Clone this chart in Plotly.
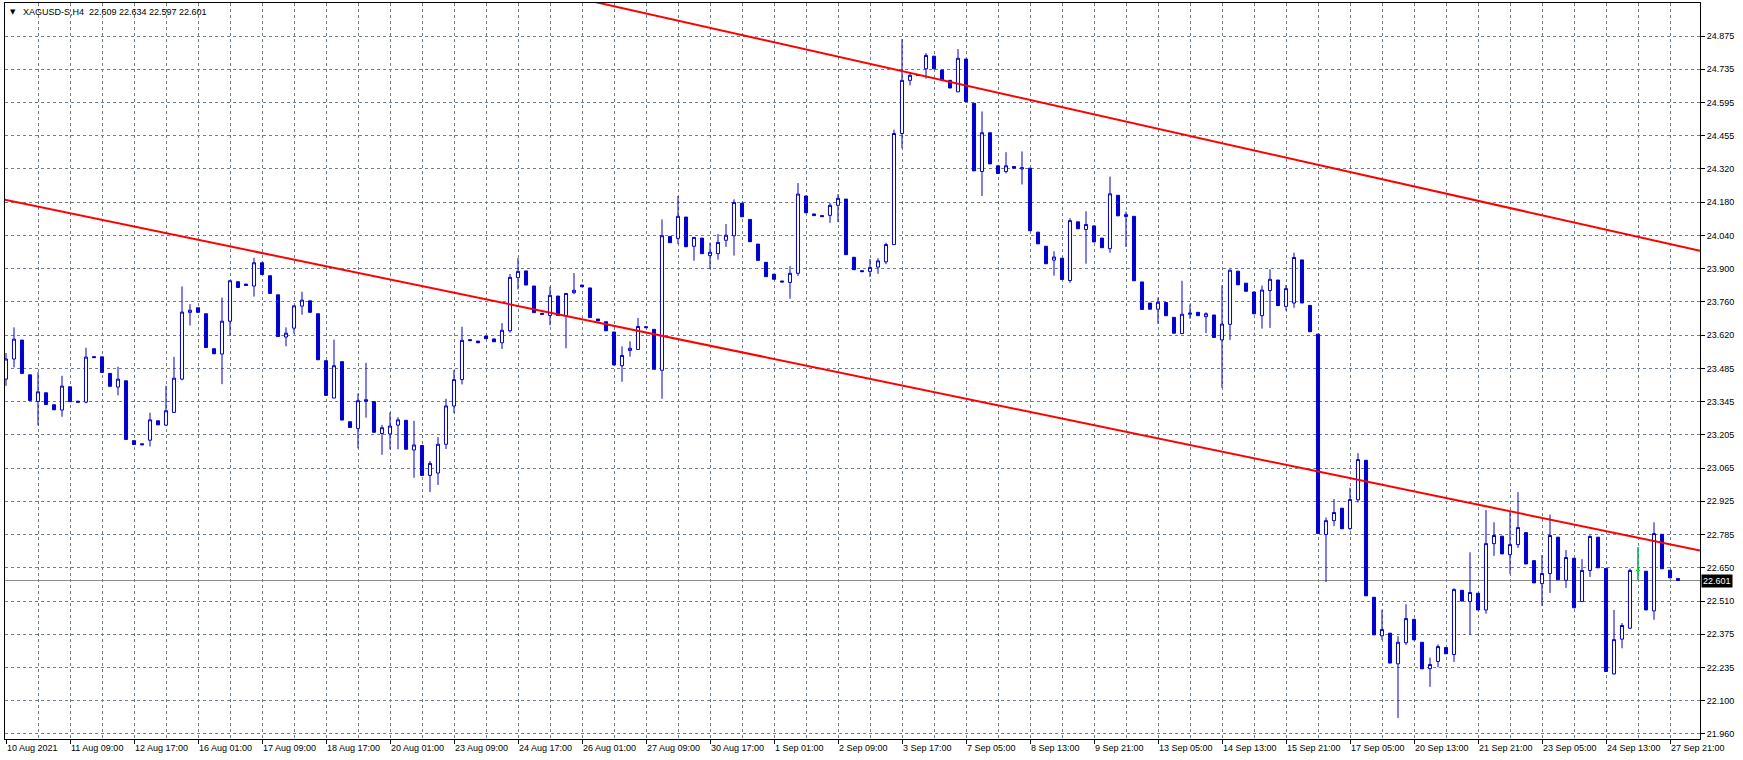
import plotly.graph_objects as go

# ---------------- data ----------------
open_ = [23.442, 23.526, 23.605, 23.460, 23.349, 23.385, 23.335, 23.313, 23.410, 23.350,
         23.346, 23.536, 23.535, 23.466, 23.409, 23.435, 23.185, 23.172, 23.187, 23.268,
         23.250, 23.303, 23.442, 23.721, 23.740, 23.715, 23.569, 23.547, 23.684, 23.849,
         23.839, 23.831, 23.928, 23.874, 23.794, 23.618, 23.655, 23.747, 23.769, 23.715,
         23.519, 23.363, 23.515, 23.264, 23.236, 23.349, 23.348, 23.215, 23.213, 23.250,
         23.270, 23.146, 23.165, 23.040, 23.050, 23.170, 23.330, 23.440, 23.607, 23.601,
         23.622, 23.610, 23.594, 23.644, 23.866, 23.894, 23.831, 23.717, 23.708, 23.789,
         23.707, 23.803, 23.835, 23.823, 23.693, 23.682, 23.639, 23.498, 23.562, 23.566,
         23.661, 23.650, 23.479, 24.038, 24.030, 24.119, 23.997, 24.031, 23.958, 23.966,
         24.022, 24.041, 24.177, 24.109, 24.006, 23.930, 23.880, 23.852, 23.846, 23.884,
         24.207, 24.132, 24.125, 24.126, 24.168, 24.194, 23.951, 23.895, 23.892, 23.910,
         23.932, 24.004, 24.468, 24.690, 24.714, 24.738, 24.791, 24.733, 24.690, 24.642,
         24.779, 24.594, 24.309, 24.471, 24.333, 24.309, 24.330, 24.320, 24.323, 24.056,
         23.997, 23.939, 23.947, 23.854, 24.099, 24.067, 24.082, 24.031, 23.987, 24.210,
         24.121, 24.122, 23.848, 23.760, 23.734, 23.762, 23.700, 23.632, 23.713, 23.721,
         23.703, 23.710, 23.606, 23.671, 23.893, 23.843, 23.806, 23.707, 23.812, 23.856,
         23.746, 23.760, 23.940, 23.750, 23.630, 22.793, 22.851, 22.903, 22.818, 22.938,
         23.103, 22.531, 22.370, 22.381, 22.253, 22.341, 22.439, 22.343, 22.233, 22.263,
         22.321, 22.292, 22.560, 22.513, 22.548, 22.478, 22.755, 22.786, 22.709, 22.751,
         22.801, 22.684, 22.588, 22.630, 22.782, 22.602, 22.694, 22.513, 22.643, 22.782,
         22.651, 22.211, 22.356, 22.402, 22.643, 22.640, 22.474, 22.794, 22.644, 22.609]

high = [23.551, 23.658, 23.605, 23.460, 23.471, 23.385, 23.335, 23.456, 23.410, 23.350,
        23.573, 23.536, 23.535, 23.466, 23.494, 23.435, 23.185, 23.172, 23.302, 23.268,
        23.414, 23.535, 23.829, 23.755, 23.740, 23.715, 23.569, 23.783, 23.855, 23.849,
        23.839, 23.949, 23.928, 23.874, 23.794, 23.658, 23.750, 23.807, 23.769, 23.715,
        23.519, 23.607, 23.515, 23.264, 23.382, 23.510, 23.348, 23.251, 23.303, 23.283,
        23.270, 23.268, 23.165, 23.100, 23.200, 23.360, 23.480, 23.661, 23.607, 23.601,
        23.622, 23.610, 23.676, 23.881, 23.948, 23.894, 23.831, 23.717, 23.828, 23.789,
        23.801, 23.885, 23.835, 23.823, 23.693, 23.682, 23.639, 23.579, 23.600, 23.697,
        23.661, 23.650, 24.109, 24.038, 24.207, 24.119, 24.035, 24.031, 24.012, 24.048,
        24.090, 24.193, 24.177, 24.109, 24.006, 23.930, 23.880, 23.852, 23.914, 24.261,
        24.207, 24.132, 24.125, 24.178, 24.215, 24.194, 23.951, 23.895, 23.944, 23.947,
        24.012, 24.484, 24.862, 24.723, 24.714, 24.804, 24.791, 24.733, 24.690, 24.821,
        24.779, 24.594, 24.560, 24.471, 24.333, 24.390, 24.330, 24.393, 24.323, 24.056,
        23.997, 23.976, 23.947, 24.114, 24.099, 24.143, 24.082, 24.031, 24.288, 24.210,
        24.142, 24.122, 23.848, 23.760, 23.783, 23.762, 23.700, 23.853, 23.754, 23.721,
        23.721, 23.710, 23.833, 23.900, 23.893, 23.843, 23.806, 23.833, 23.901, 23.856,
        23.835, 23.970, 23.940, 23.750, 23.630, 22.864, 22.941, 22.903, 22.988, 23.133,
        23.103, 22.531, 22.478, 22.381, 22.368, 22.502, 22.439, 22.343, 22.279, 22.334,
        22.321, 22.569, 22.560, 22.719, 22.548, 22.895, 22.844, 22.786, 22.888, 22.970,
        22.801, 22.684, 22.707, 22.876, 22.782, 22.728, 22.694, 22.690, 22.790, 22.782,
        22.651, 22.478, 22.423, 22.651, 22.740, 22.640, 22.844, 22.794, 22.644, 22.609]

low = [23.414, 23.491, 23.466, 23.353, 23.249, 23.336, 23.314, 23.285, 23.348, 23.346,
       23.341, 23.532, 23.470, 23.412, 23.374, 23.190, 23.169, 23.168, 23.161, 23.251,
       23.246, 23.303, 23.437, 23.666, 23.721, 23.574, 23.548, 23.421, 23.625, 23.825,
       23.833, 23.787, 23.879, 23.800, 23.620, 23.579, 23.632, 23.711, 23.721, 23.523,
       23.374, 23.363, 23.271, 23.240, 23.153, 23.281, 23.220, 23.126, 23.149, 23.149,
       23.149, 23.030, 23.040, 22.970, 23.000, 23.150, 23.300, 23.420, 23.603, 23.594,
       23.611, 23.598, 23.568, 23.636, 23.817, 23.835, 23.720, 23.713, 23.667, 23.708,
       23.571, 23.797, 23.828, 23.699, 23.685, 23.644, 23.501, 23.431, 23.536, 23.566,
       23.657, 23.483, 23.360, 24.012, 24.006, 23.995, 23.937, 23.966, 23.903, 23.941,
       23.994, 23.958, 24.120, 24.016, 23.938, 23.870, 23.859, 23.848, 23.778, 23.873,
       24.137, 24.125, 24.121, 24.095, 24.098, 23.962, 23.899, 23.891, 23.869, 23.882,
       23.922, 24.004, 24.406, 24.669, 24.710, 24.697, 24.738, 24.691, 24.658, 24.642,
       24.601, 24.312, 24.207, 24.341, 24.301, 24.301, 24.323, 24.255, 24.062, 24.007,
       23.924, 23.874, 23.858, 23.845, 24.070, 23.924, 24.015, 23.991, 23.970, 24.124,
       23.994, 23.853, 23.733, 23.734, 23.674, 23.707, 23.634, 23.632, 23.694, 23.707,
       23.634, 23.616, 23.406, 23.606, 23.836, 23.809, 23.715, 23.653, 23.656, 23.749,
       23.728, 23.740, 23.760, 23.640, 22.797, 22.595, 22.828, 22.817, 22.812, 22.927,
       22.537, 22.374, 22.353, 22.256, 22.027, 22.331, 22.353, 22.232, 22.157, 22.239,
       22.295, 22.261, 22.515, 22.374, 22.478, 22.462, 22.704, 22.712, 22.629, 22.737,
       22.670, 22.591, 22.495, 22.549, 22.604, 22.570, 22.487, 22.513, 22.616, 22.654,
       22.221, 22.208, 22.318, 22.398, 22.604, 22.478, 22.437, 22.650, 22.612, 22.601]

close = [23.526, 23.609, 23.466, 23.353, 23.389, 23.336, 23.314, 23.413, 23.348, 23.346,
         23.534, 23.532, 23.470, 23.412, 23.442, 23.190, 23.169, 23.168, 23.272, 23.251,
         23.310, 23.446, 23.722, 23.730, 23.721, 23.574, 23.548, 23.684, 23.853, 23.825,
         23.833, 23.928, 23.879, 23.800, 23.620, 23.634, 23.748, 23.772, 23.721, 23.523,
         23.374, 23.498, 23.271, 23.240, 23.352, 23.356, 23.220, 23.239, 23.246, 23.272,
         23.149, 23.167, 23.040, 23.090, 23.170, 23.330, 23.440, 23.604, 23.603, 23.594,
         23.611, 23.598, 23.646, 23.867, 23.892, 23.835, 23.720, 23.713, 23.792, 23.708,
         23.800, 23.813, 23.828, 23.699, 23.685, 23.644, 23.501, 23.541, 23.571, 23.662,
         23.657, 23.483, 24.041, 24.012, 24.122, 23.995, 24.034, 23.966, 23.972, 24.013,
         24.043, 24.180, 24.120, 24.016, 23.938, 23.870, 23.859, 23.848, 23.884, 24.215,
         24.137, 24.125, 24.121, 24.168, 24.197, 23.962, 23.899, 23.891, 23.908, 23.936,
         24.004, 24.468, 24.690, 24.711, 24.710, 24.794, 24.738, 24.691, 24.658, 24.782,
         24.601, 24.312, 24.471, 24.341, 24.301, 24.333, 24.323, 24.325, 24.062, 24.007,
         23.924, 23.952, 23.858, 24.104, 24.070, 24.088, 24.015, 23.991, 24.216, 24.124,
         24.129, 23.853, 23.733, 23.734, 23.763, 23.707, 23.634, 23.713, 23.718, 23.707,
         23.715, 23.616, 23.672, 23.897, 23.836, 23.809, 23.715, 23.814, 23.859, 23.749,
         23.820, 23.950, 23.760, 23.640, 22.797, 22.851, 22.885, 22.817, 22.939, 23.106,
         22.537, 22.374, 22.396, 22.256, 22.343, 22.442, 22.353, 22.232, 22.250, 22.325,
         22.295, 22.563, 22.515, 22.551, 22.478, 22.755, 22.789, 22.712, 22.751, 22.822,
         22.670, 22.591, 22.630, 22.789, 22.604, 22.697, 22.487, 22.643, 22.785, 22.654,
         22.221, 22.354, 22.413, 22.643, 22.643, 22.478, 22.797, 22.650, 22.612, 22.601]

time_labels = ["10 Aug 2021", "11 Aug 09:00", "12 Aug 17:00", "16 Aug 01:00", "17 Aug 09:00",
               "18 Aug 17:00", "20 Aug 01:00", "23 Aug 09:00", "24 Aug 17:00", "26 Aug 01:00",
               "27 Aug 09:00", "30 Aug 17:00", "1 Sep 01:00", "2 Sep 09:00", "3 Sep 17:00",
               "7 Sep 05:00", "8 Sep 13:00", "9 Sep 21:00", "13 Sep 05:00", "14 Sep 13:00",
               "15 Sep 21:00", "17 Sep 05:00", "20 Sep 13:00", "21 Sep 21:00", "23 Sep 05:00",
               "24 Sep 13:00", "27 Sep 21:00"]
bars_per_label = 8

price_labels = ["21.960", "22.100", "22.235", "22.375", "22.510", "22.650", "22.785", "22.925",
                "23.065", "23.205", "23.345", "23.485", "23.620", "23.760", "23.900", "24.040",
                "24.180", "24.320", "24.455", "24.595", "24.735", "24.875"]

# trend lines: two anchors each (bar index, price)
upper_line_bars = [83.625, 211.75]
upper_line_prices = [24.942, 23.978]
lower_line_bars = [0.0, 211.75]
lower_line_prices = [24.190, 22.726]

last_price = 22.601
title_text = "XAGUSD-S,H4\u00a0\u00a022.609 22.634 22.597 22.601"

# ---------------- figure ----------------
n = len(open_)
bars = list(range(n))

BLUE = "#0000CD"
GRID = "#6E7F90"
FONT = "Liberation Sans, Arial, sans-serif"

y_min, y_max = 21.939, 25.013
x_min, x_max = -0.125, 211.75

def extend(xs, ys, x0, x1):
    slope = (ys[1] - ys[0]) / (xs[1] - xs[0])
    return [x0, x1], [ys[0] + slope * (x0 - xs[0]), ys[0] + slope * (x1 - xs[0])]

fig = go.Figure()

fig.add_trace(go.Candlestick(
    x=bars, open=open_, high=high, low=low, close=close,
    increasing=dict(line=dict(color=BLUE, width=1), fillcolor="white"),
    decreasing=dict(line=dict(color=BLUE, width=1), fillcolor=BLUE),
    whiskerwidth=0, hoverinfo="skip", showlegend=False,
))

doji = [i for i in bars if open_[i] == close[i]]
fig.add_trace(go.Candlestick(
    x=doji, open=[open_[i] for i in doji], high=[high[i] for i in doji],
    low=[low[i] for i in doji], close=[close[i] for i in doji],
    increasing=dict(line=dict(color="#00FF00", width=1), fillcolor="#00FF00"),
    decreasing=dict(line=dict(color="#00FF00", width=1), fillcolor="#00FF00"),
    whiskerwidth=0, hoverinfo="skip", showlegend=False,
))

ux, uy = extend(upper_line_bars, upper_line_prices, 40, x_max)
lx, ly = extend(lower_line_bars, lower_line_prices, -2, x_max)
for xs, ys in ((ux, uy), (lx, ly)):
    fig.add_trace(go.Scatter(x=xs, y=ys, mode="lines",
                             line=dict(color="#FF0000", width=2),
                             hoverinfo="skip", showlegend=False))

step = (float(price_labels[-1]) - float(price_labels[0])) / (len(price_labels) - 1)
price_vals = [float(price_labels[0]) + k * step for k in range(len(price_labels))]
label_bars = [k * bars_per_label for k in range(len(time_labels))]
minor_bars = [b + bars_per_label // 2 for b in label_bars]

fig.add_shape(type="line", xref="paper", x0=0, x1=1, yref="y", y0=last_price, y1=last_price,
              line=dict(color="#8C8C8C", width=1), layer="between")

fig.add_annotation(xref="paper", x=1, xanchor="left", xshift=1, yref="y", y=last_price,
                   text=f"{last_price:.3f}", showarrow=False, bgcolor="black",
                   font=dict(family=FONT, size=9, color="white"), borderpad=1)

fig.add_annotation(xref="paper", x=0.0045, xanchor="center", yref="paper", y=1, yanchor="top",
                   yshift=-3, text="\u25BC", showarrow=False,
                   font=dict(family="DejaVu Sans", size=7, color="black"))
fig.add_annotation(xref="paper", x=0.0092, xanchor="left", yref="paper", y=1, yanchor="top",
                   yshift=-2, text=title_text, showarrow=False,
                   font=dict(family=FONT, size=9, color="black"))

fig.update_layout(
    width=1743, height=760,
    margin=dict(l=5, r=43, t=3, b=21, pad=0),
    paper_bgcolor="white", plot_bgcolor="white",
    boxgap=0.45,
    font=dict(family=FONT, size=9, color="black"),
    xaxis=dict(
        range=[x_min, x_max], rangeslider=dict(visible=False),
        tickmode="array", tickvals=label_bars, ticktext=time_labels,
        ticks="outside", ticklen=4, tickcolor="black", ticklabelposition="outside right",
        showline=True, linecolor="black", linewidth=1, mirror=True,
        showgrid=True, gridcolor=GRID, gridwidth=1, griddash="3px,3px",
        minor=dict(tickmode="array", tickvals=minor_bars, showgrid=True, gridcolor=GRID,
                   gridwidth=1, griddash="3px,3px", ticks=""),
        zeroline=False, fixedrange=True,
    ),
    yaxis=dict(
        range=[y_min, y_max], side="right",
        tickmode="array", tickvals=price_vals, ticktext=price_labels,
        ticks="outside", ticklen=4, tickcolor="black",
        showline=True, linecolor="black", linewidth=1, mirror=True,
        showgrid=True, gridcolor=GRID, gridwidth=1, griddash="3px,3px",
        zeroline=False, fixedrange=True,
    ),
)

fig.write_html("out.html", config={"displayModeBar": False},
               post_script="document.body.style.margin='0';")
